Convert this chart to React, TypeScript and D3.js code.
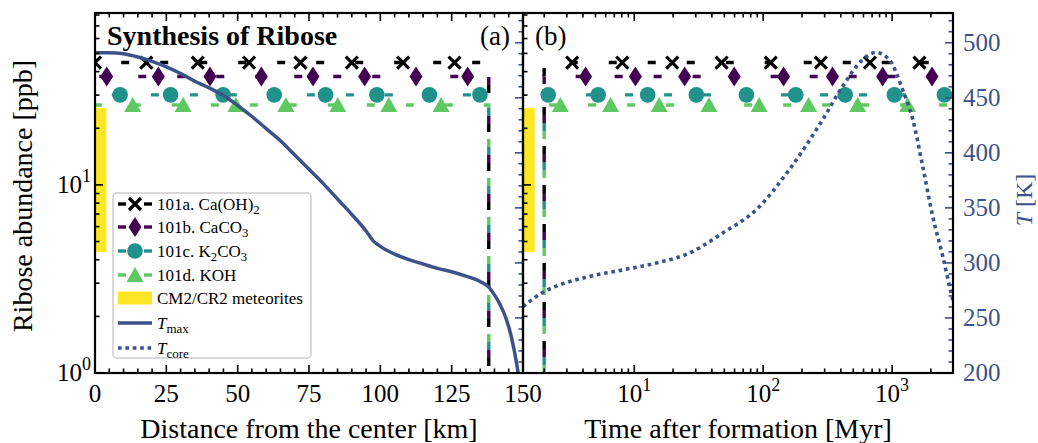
import React from 'react';
import * as d3 from 'd3';

const WIDTH = 1038;
const HEIGHT = 443;
const TOP = 13;
const BOTTOM = 373;
const LEFT = 95;
const MID = 523;
const RIGHT = 953;

const BLUE = '#3b528b';
const SERIF = '"Liberation Serif", "Times New Roman", serif';

// axis ranges
const distDomain = [0, 150];
const timeDomain = [1.37, 2970];
const riboseDomain = [1, 82];
const tempDomain = [200, 527];

// tick labels
const distTicks = [0, 25, 50, 75, 100, 125, 150];
const timeTicks = [10, 100, 1000];
const riboseTicks = [1, 10];
const tempTicks = [200, 250, 300, 350, 400, 450, 500];

// ribose experiments: plateau abundance [ppb]
const seriesLabels = ['101a. Ca(OH)_2', '101b. CaCO_3', '101c. K_2CO_3', '101d. KOH'];
const seriesColors = ['#000000', '#440154', '#21918c', '#5ec962'];
const seriesMarkers = ['x', 'd', 'o', '^'];
const riboseLevels = [44.7, 37.7, 30.1, 26.6];
const cutoffKm = 138;
const onsetMyr = 2.0;

// where the markers sit along each plateau
const markersKm = [
  [0, 18, 36, 54, 72, 90, 108, 126],
  [4.1, 22.2, 40.3, 58.3, 76.4, 94.5, 112.5, 130.6],
  [8.8, 26.5, 44.9, 62.8, 80.8, 98.8, 117.2, 134.9],
  [13.2, 30.9, 49.4, 66.9, 85.1, 103, 121.3],
];
const markersMyr = [
  [3.3, 8.07, 19.7, 47.6, 114.5, 280, 673, 1630],
  [4.19, 10.2, 24.6, 59.6, 144, 345, 845, 2042],
  [2.15, 5.25, 12.7, 30.3, 74.1, 179, 433, 1042, 2547],
  [2.67, 6.55, 15.6, 38.0, 93.1, 225, 541, 1321],
];

// CM2/CR2 meteorites
const meteoriteRange = [4.4, 25.6];
const meteoriteKm = [0, 4];
const meteoriteMyr = [1.37, 1.69];

// T_max against distance from the center
const distKm = [0, 5, 10, 15, 20, 25, 30, 35, 40, 45, 50, 55, 60, 65, 70, 75, 80, 85, 90, 95, 97.5, 100, 105, 110, 115, 120, 125, 130, 135, 138, 140, 142, 144, 146, 148, 150];
const tMaxK = [491, 491, 490, 487, 483, 478, 472, 465, 459, 452, 443, 433, 422, 411, 398, 385, 372, 358, 344, 329, 320, 315, 308, 303, 299, 295, 292, 288, 283, 278, 271, 262, 250, 232, 205, 165];

// T_core against time after formation
const timeMyr = [1.37, 2.0, 2.44, 4.45, 8.07, 14.6, 26.6, 48.3, 87.7, 159, 289, 413, 591, 750, 953, 1211, 1449, 1731, 2070, 2477, 2875, 2970];
const tCoreK = [260.3, 273.9, 278.5, 287.6, 293.6, 299.7, 308.8, 327, 348, 384.5, 430, 460.3, 484.5, 491.2, 484.5, 457, 430, 387.5, 342, 305.7, 272.5, 266];

const DASH = 8;
const PERIOD = 39;
const stackOrder = [3, 2, 1, 0];
const mod = (a: number, n: number) => ((a % n) + n) % n;

const Marker = ({ kind, x, y, color }: { kind: string; x: number; y: number; color: string }) => {
  if (kind === 'x')
    return <path d={`M${x - 6},${y - 6}L${x + 6},${y + 6}M${x - 6},${y + 6}L${x + 6},${y - 6}`} stroke={color} strokeWidth={3.2} fill="none" />;
  if (kind === 'd')
    return <path d={`M${x},${y - 10}L${x + 6.5},${y}L${x},${y + 10}L${x - 6.5},${y}Z`} fill={color} />;
  if (kind === 'o') return <circle cx={x} cy={y} r={7.8} fill={color} />;
  return <path d={`M${x},${y - 8}L${x + 8.5},${y + 7}L${x - 8.5},${y + 7}Z`} fill={color} />;
};

const Rich = ({ text, size }: { text: string; size: number }) => {
  const parts = text.split(/_(\w)/);
  let shift = 0;
  return (
    <>
      {parts.map((p, i) => {
        if (!p) return null;
        const sub = i % 2 === 1;
        const target = sub ? size * 0.22 : 0;
        const dy = target - shift;
        shift = target;
        return (
          <tspan key={i} dy={dy} fontSize={sub ? size * 0.75 : size}>
            {p}
          </tspan>
        );
      })}
    </>
  );
};

const Pow10 = ({ e }: { e: number }) => (
  <>
    10<tspan dy={-11} fontSize={18}>{e}</tspan>
  </>
);

const App = () => {
  const xL = d3.scaleLinear().domain(distDomain).range([LEFT, MID]);
  const xR = d3.scaleLog().domain(timeDomain).range([MID, RIGHT]);
  const y = d3.scaleLog().domain(riboseDomain).range([BOTTOM, TOP]);
  const yT = d3.scaleLinear().domain(tempDomain).range([BOTTOM, TOP]);

  const tmaxLine = d3
    .line<number>()
    .x((_, i) => xL(distKm[i]))
    .y((d) => yT(d))
    .curve(d3.curveMonotoneX);
  const tcoreLine = d3
    .line<number>()
    .x((_, i) => xR(timeMyr[i]))
    .y((d) => yT(d))
    .curve(d3.curveMonotoneX);
  const seg = d3.line();

  const below = 0.3;
  const distMinor = d3.range(distDomain[0], distDomain[1] + 1, 5);
  const tempMinor = d3.range(tempDomain[0], tempDomain[1], 10);
  const riboseMinor = y.ticks();
  const timeMinor = xR.ticks();

  const MAJ = 8;
  const MIN = 4.5;
  const tickW = 1.6;

  const legendY = [204, 227, 251, 275, 298, 323, 348];

  return (
    <svg width={WIDTH} height={HEIGHT} style={{ position: 'absolute', left: 0, top: 0, background: '#fff' }} fontFamily={SERIF}>
      <defs>
        <clipPath id="clipL">
          <rect x={LEFT} y={TOP} width={MID - LEFT} height={BOTTOM - TOP} />
        </clipPath>
        <clipPath id="clipR">
          <rect x={MID} y={TOP} width={RIGHT - MID} height={BOTTOM - TOP} />
        </clipPath>
      </defs>

      {/* left panel: distance */}
      <g clipPath="url(#clipL)">
        <rect
          x={xL(meteoriteKm[0])}
          y={y(meteoriteRange[1])}
          width={xL(meteoriteKm[1]) - xL(meteoriteKm[0])}
          height={y(meteoriteRange[0]) - y(meteoriteRange[1])}
          fill="#fde725"
        />
        {riboseLevels.map((lv, i) => {
          const len = xL(cutoffKm) - xL(0) + (y(1) - y(lv));
          return (
            <path
              key={i}
              d={seg([[xL(0), y(lv)], [xL(cutoffKm), y(lv)], [xL(cutoffKm), y(below)]]) || ''}
              fill="none"
              stroke={seriesColors[i]}
              strokeWidth={3.4}
              strokeDasharray={`${DASH} ${PERIOD - DASH}`}
              strokeDashoffset={mod(-DASH * stackOrder[i] - len, PERIOD)}
            />
          );
        })}
        {riboseLevels.map((lv, i) =>
          markersKm[i].map((k, j) => (
            <Marker key={`${i}-${j}`} kind={seriesMarkers[i]} x={xL(k)} y={y(lv)} color={seriesColors[i]} />
          ))
        )}
        <path d={tmaxLine(tMaxK) || ''} fill="none" stroke={BLUE} strokeWidth={3.5} />
      </g>

      {/* right panel: time */}
      <g clipPath="url(#clipR)">
        <rect
          x={xR(meteoriteMyr[0])}
          y={y(meteoriteRange[1])}
          width={xR(meteoriteMyr[1]) - xR(meteoriteMyr[0])}
          height={y(meteoriteRange[0]) - y(meteoriteRange[1])}
          fill="#fde725"
        />
        {riboseLevels.map((lv, i) => {
          const len = y(below) - y(1);
          return (
            <path
              key={i}
              d={seg([[xR(onsetMyr), y(below)], [xR(onsetMyr), y(lv)], [xR(timeDomain[1] * 1.05), y(lv)]]) || ''}
              fill="none"
              stroke={seriesColors[i]}
              strokeWidth={3.4}
              strokeDasharray={`${DASH} ${PERIOD - DASH}`}
              strokeDashoffset={mod(-DASH * stackOrder[i] - len, PERIOD)}
            />
          );
        })}
        {riboseLevels.map((lv, i) =>
          markersMyr[i].map((t, j) => (
            <Marker key={`${i}-${j}`} kind={seriesMarkers[i]} x={xR(t)} y={y(lv)} color={seriesColors[i]} />
          ))
        )}
        <path d={tcoreLine(tCoreK) || ''} fill="none" stroke={BLUE} strokeWidth={3.6} strokeDasharray="3.6 3.8" />
      </g>

      {/* ticks */}
      <g stroke="#000" strokeWidth={tickW}>
        {distMinor.map((v) => {
          const L = v % 25 === 0 ? MAJ : MIN;
          return (
            <g key={`d${v}`}>
              <line x1={xL(v)} x2={xL(v)} y1={BOTTOM} y2={BOTTOM - L} />
              <line x1={xL(v)} x2={xL(v)} y1={TOP} y2={TOP + L} />
            </g>
          );
        })}
        {timeMinor.map((v) => {
          const L = timeTicks.includes(v) ? MAJ : MIN;
          return (
            <g key={`t${v}`}>
              <line x1={xR(v)} x2={xR(v)} y1={BOTTOM} y2={BOTTOM - L} />
              <line x1={xR(v)} x2={xR(v)} y1={TOP} y2={TOP + L} />
            </g>
          );
        })}
        {riboseMinor.map((v) => {
          const L = riboseTicks.includes(v) ? MAJ : MIN;
          return (
            <g key={`r${v}`}>
              <line x1={LEFT} x2={LEFT + L} y1={y(v)} y2={y(v)} />
              <line x1={MID} x2={MID + L} y1={y(v)} y2={y(v)} />
            </g>
          );
        })}
      </g>
      <g stroke={BLUE} strokeWidth={tickW}>
        {tempMinor.map((v) => {
          const L = v % 50 === 0 ? MAJ : MIN;
          return (
            <g key={`k${v}`}>
              <line x1={MID} x2={MID - L} y1={yT(v)} y2={yT(v)} />
              <line x1={RIGHT} x2={RIGHT - L} y1={yT(v)} y2={yT(v)} />
            </g>
          );
        })}
      </g>

      {/* frames */}
      <rect x={LEFT} y={TOP} width={MID - LEFT} height={BOTTOM - TOP} fill="none" stroke="#000" strokeWidth={2.2} />
      <rect x={MID} y={TOP} width={RIGHT - MID} height={BOTTOM - TOP} fill="none" stroke="#000" strokeWidth={2.2} />

      {/* tick labels */}
      <g fontSize={25} fill="#000" textAnchor="middle">
        {distTicks.map((v) => (
          <text key={v} x={xL(v)} y={402}>
            {v}
          </text>
        ))}
        {timeTicks.map((v) => (
          <text key={v} x={xR(v)} y={402}>
            <Pow10 e={Math.round(Math.log10(v))} />
          </text>
        ))}
        {riboseTicks.map((v) => (
          <text key={v} x={91} y={y(v) + 8} textAnchor="end">
            <Pow10 e={Math.round(Math.log10(v))} />
          </text>
        ))}
      </g>
      <g fontSize={25} fill={BLUE}>
        {tempTicks.map((v) => (
          <text key={v} x={963} y={yT(v) + 8}>
            {v}
          </text>
        ))}
      </g>

      {/* axis labels */}
      <text x={(LEFT + MID) / 2} y={438} fontSize={28} textAnchor="middle">
        Distance from the center [km]
      </text>
      <text x={(MID + RIGHT) / 2} y={438} fontSize={28} textAnchor="middle">
        Time after formation [Myr]
      </text>
      <text transform="translate(32,196) rotate(-90)" fontSize={28} textAnchor="middle">
        Ribose abundance [ppb]
      </text>
      <text transform="translate(1032,200) rotate(-90)" fontSize={24} textAnchor="middle" fill={BLUE}>
        <tspan fontStyle="italic">T</tspan> [K]
      </text>

      {/* titles */}
      <text x={107} y={45} fontSize={28} fontWeight="bold">
        Synthesis of Ribose
      </text>
      <text x={480} y={45} fontSize={27}>
        (a)
      </text>
      <text x={535} y={45} fontSize={27}>
        (b)
      </text>

      {/* legend */}
      <g>
        <rect x={113} y={193} width={198} height={165} rx={4} fill="#fff" fillOpacity={0.8} stroke="#cccccc" strokeWidth={1.5} />
        {seriesLabels.map((lab, i) => (
          <g key={lab}>
            <line x1={118} x2={126} y1={legendY[i]} y2={legendY[i]} stroke={seriesColors[i]} strokeWidth={3.4} />
            <line x1={144} x2={152} y1={legendY[i]} y2={legendY[i]} stroke={seriesColors[i]} strokeWidth={3.4} />
            <Marker kind={seriesMarkers[i]} x={135} y={legendY[i]} color={seriesColors[i]} />
            <text x={157} y={legendY[i] + 6} fontSize={17}>
              <Rich text={lab} size={17} />
            </text>
          </g>
        ))}
        <rect x={118} y={legendY[4] - 6.5} width={34} height={13} fill="#fde725" />
        <text x={157} y={legendY[4] + 6} fontSize={17}>
          CM2/CR2 meteorites
        </text>
        <line x1={118} x2={152} y1={legendY[5]} y2={legendY[5]} stroke={BLUE} strokeWidth={3.5} />
        <text x={157} y={legendY[5] + 6} fontSize={17}>
          <tspan fontStyle="italic">T</tspan>
          <tspan dy={4} fontSize={13}>max</tspan>
        </text>
        <line x1={118} x2={152} y1={legendY[6]} y2={legendY[6]} stroke={BLUE} strokeWidth={3.6} strokeDasharray="3.6 3.8" />
        <text x={157} y={legendY[6] + 6} fontSize={17}>
          <tspan fontStyle="italic">T</tspan>
          <tspan dy={4} fontSize={13}>core</tspan>
        </text>
      </g>
    </svg>
  );
};

export default App;
